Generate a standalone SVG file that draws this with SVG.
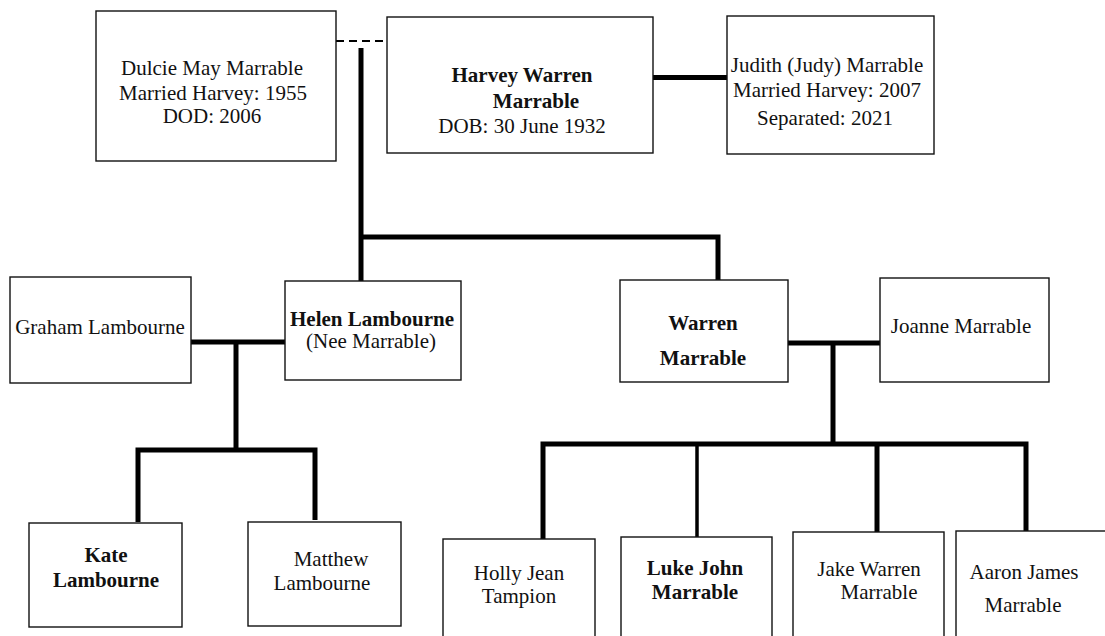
<svg xmlns="http://www.w3.org/2000/svg" width="1105" height="636" viewBox="0 0 1105 636">
<style>
.box{fill:#fff;stroke:#111;stroke-width:1.4}
text{font-family:"Liberation Serif","Times New Roman",serif;font-size:21px;fill:#111;text-anchor:middle}
.b{font-weight:bold}
.ln{stroke:#000;stroke-width:5;fill:none;stroke-linecap:butt}
.thin{stroke:#000;stroke-width:3.5;fill:none}
.dash{stroke:#000;stroke-width:2;stroke-dasharray:8 5;fill:none}
</style>
<rect width="1105" height="636" fill="#fff"/>
<g id="connectors">
<line class="dash" x1="336" y1="41" x2="387" y2="41"/>
<line class="ln" x1="361" y1="48" x2="361" y2="281"/>
<polyline class="ln" points="361,237 718,237 718,280"/>
<line class="ln" x1="653" y1="77.5" x2="727" y2="77.5"/>
<line class="ln" x1="191" y1="342" x2="285" y2="342"/>
<line class="ln" x1="236" y1="342" x2="236" y2="450"/>
<polyline class="ln" points="138,522 138,450 315,450 315,520"/>
<line class="ln" x1="788" y1="343" x2="880" y2="343"/>
<line class="ln" x1="833" y1="343" x2="833" y2="444"/>
<polyline class="ln" points="543,539 543,444 1026,444 1026,531"/>
<line class="thin" x1="697" y1="444" x2="697" y2="537"/>
<line class="ln" x1="877" y1="444" x2="877" y2="532"/>
</g>
<g id="dulcie">
<rect class="box" x="96" y="11" width="240" height="150"/>
<text x="212" y="75">Dulcie May Marrable</text>
<text x="213" y="100">Married Harvey: 1955</text>
<text x="212" y="123">DOD: 2006</text>
</g>
<g id="harvey">
<rect class="box" x="387" y="17" width="266" height="136"/>
<text class="b" x="522" y="82">Harvey Warren</text>
<text class="b" x="536" y="108">Marrable</text>
<text x="522" y="133">DOB: 30 June 1932</text>
</g>
<g id="judith">
<rect class="box" x="727" y="16" width="207" height="138"/>
<text x="827" y="72">Judith (Judy) Marrable</text>
<text x="827" y="97">Married Harvey: 2007</text>
<text x="825" y="125">Separated: 2021</text>
</g>
<g id="graham">
<rect class="box" x="10" y="277" width="181" height="106"/>
<text x="100" y="334">Graham Lambourne</text>
</g>
<g id="helen">
<rect class="box" x="285" y="281" width="176" height="99"/>
<text class="b" x="372" y="326">Helen Lambourne</text>
<text x="371" y="348">(Nee Marrable)</text>
</g>
<g id="warren">
<rect class="box" x="620" y="280" width="168" height="102"/>
<text class="b" x="703" y="330">Warren</text>
<text class="b" x="703" y="365">Marrable</text>
</g>
<g id="joanne">
<rect class="box" x="880" y="278" width="169" height="104"/>
<text x="961" y="333">Joanne Marrable</text>
</g>
<g id="kate">
<rect class="box" x="29" y="523" width="153" height="104"/>
<text class="b" x="106" y="562">Kate</text>
<text class="b" x="106" y="587">Lambourne</text>
</g>
<g id="matthew">
<rect class="box" x="248" y="522" width="153" height="104"/>
<text x="331" y="566">Matthew</text>
<text x="322" y="590">Lambourne</text>
</g>
<g id="holly">
<rect class="box" x="443" y="539" width="152" height="110"/>
<text x="519" y="580">Holly Jean</text>
<text x="519" y="603">Tampion</text>
</g>
<g id="luke">
<rect class="box" x="621" y="537" width="151" height="110"/>
<text class="b" x="695" y="575">Luke John</text>
<text class="b" x="695" y="599">Marrable</text>
</g>
<g id="jake">
<rect class="box" x="793" y="532" width="151" height="115"/>
<text x="869" y="576">Jake Warren</text>
<text x="879" y="599">Marrable</text>
</g>
<g id="aaron">
<rect class="box" x="956" y="531" width="160" height="116"/>
<text x="1024" y="579">Aaron James</text>
<text x="1023" y="612">Marrable</text>
</g>
</svg>
